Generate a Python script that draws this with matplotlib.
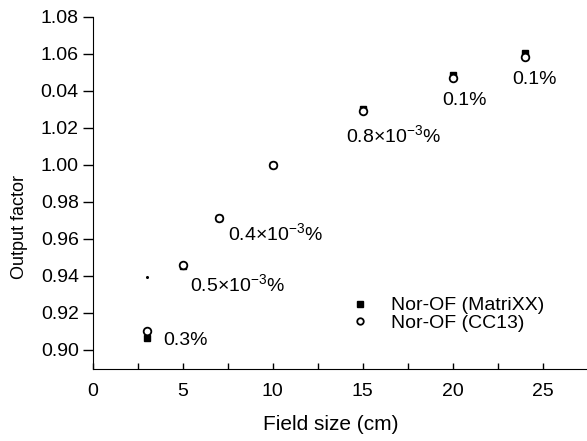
import matplotlib
matplotlib.use("Agg")
import matplotlib.pyplot as plt

# ── data ──────────────────────────────────────
field_size   = [3, 5, 7, 10, 15, 20, 24]
of_matrixx   = [0.9065, 0.9455, 0.9712, 1.0002, 1.0302, 1.0488, 1.0604]
of_cc13      = [0.9100, 0.9460, 0.9714, 1.0002, 1.0290, 1.0472, 1.0582]

stray_x = [3]
stray_y = [0.9395]

diff_labels = ["0.3%", r"0.5$\times$10$^{-3}$%", r"0.4$\times$10$^{-3}$%",
               r"0.8$\times$10$^{-3}$%", "0.1%", "0.1%"]
label_x     = [3.9, 5.4, 7.5, 14.05, 19.4, 23.3]
label_y     = [0.9049, 0.9355, 0.9630, 1.0160, 1.0350, 1.0460]

yticks      = [0.90, 0.92, 0.94, 0.96, 0.98, 1.00, 1.02, 1.04, 1.06, 1.08]
ytick_text  = ["0.90", "0.92", "0.94", "0.96", "0.98", "1.00", "1.02",
               "0.04", "1.06", "1.08"]

# ── style ─────────────────────────────────────
plt.rcParams["font.family"] = ["Liberation Sans", "DejaVu Sans"]
plt.rcParams["mathtext.fontset"] = "custom"
plt.rcParams["mathtext.rm"] = "Liberation Sans"
plt.rcParams["mathtext.it"] = "Liberation Sans"
plt.rcParams["mathtext.bf"] = "Liberation Sans"

fig = plt.figure(figsize=(5.87, 4.41), dpi=100)
ax = fig.add_axes([92.7 / 587, 72 / 441, (587 - 92.7) / 587, 352 / 441])

ax.plot(field_size, of_matrixx, ls="none", marker="s", ms=5,
        color="black", label="Nor-OF (MatriXX)", zorder=3)
ax.plot(field_size, of_cc13, ls="none", marker="o", ms=5.5,
        mfc="white", mec="black", mew=1.3, label="Nor-OF (CC13)", zorder=4)
ax.plot(stray_x, stray_y, ls="none", marker="o", ms=1.2, color="black")

for t, x, y in zip(diff_labels, label_x, label_y):
    ax.text(x, y, t, ha="left", va="center", fontsize=14)

ax.set_xlim(0, 27.46)
ax.set_ylim(0.8897, 1.08)
ax.set_xticks([0, 5, 10, 15, 20, 25])
ax.set_xticks([2.5, 7.5, 12.5, 17.5, 22.5], minor=True)
ax.set_yticks(yticks)
ax.set_yticklabels(ytick_text)

ax.tick_params(axis="x", which="both", direction="in", length=4, width=1,
               labelsize=14, pad=10)
ax.tick_params(axis="y", which="both", direction="out", length=7, width=1,
               labelsize=14, pad=3)

ax.spines["top"].set_visible(False)
ax.spines["right"].set_visible(False)

ax.set_xlabel("Field size (cm)", fontsize=15)
ax.xaxis.set_label_coords(0.482, -0.13)
ax.set_ylabel("Output factor", fontsize=13, va="center")
ax.yaxis.set_label_coords(-0.149, 0.403)

ax.legend(loc="upper left", bbox_to_anchor=(0.525, 0.205), frameon=False,
          fontsize=14, handlelength=0.8, handletextpad=1.2, markerscale=0.85,
          labelspacing=0.0, borderpad=0, borderaxespad=0)

fig.savefig("out.png", dpi=100)
